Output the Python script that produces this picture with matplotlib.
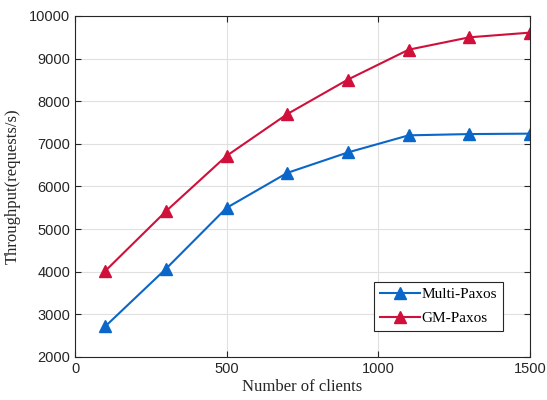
"""Throughput vs. number of clients: Multi-Paxos vs GM-Paxos."""

import matplotlib

matplotlib.use("Agg")
import matplotlib.pyplot as plt

clients = [100, 300, 500, 700, 900, 1100, 1300, 1500]
multi_paxos = [2720, 4070, 5500, 6320, 6800, 7200, 7230, 7240]
gm_paxos = [4020, 5420, 6720, 7700, 8510, 9210, 9500, 9610]

x_ticks = [0, 500, 1000, 1500]
y_ticks = [2000, 3000, 4000, 5000, 6000, 7000, 8000, 9000, 10000]


def main() -> None:
    fig = plt.figure(figsize=(5.47, 4.0), dpi=100)
    ax = fig.add_axes([75 / 547, 43 / 400, 455 / 547, 341 / 400])

    ax.plot(clients, multi_paxos, color="#0A66C8", marker="^", markersize=8.5,
            linewidth=1.5, label="Multi-Paxos")
    ax.plot(clients, gm_paxos, color="#D0103A", marker="^", markersize=8.5,
            linewidth=1.5, label="GM-Paxos")

    ax.set_xlim(0, 1500)
    ax.set_ylim(2000, 10000)
    ax.set_xticks(x_ticks)
    ax.set_yticks(y_ticks)
    ax.grid(True, color="#E0E0E0", linewidth=0.8)
    ax.set_axisbelow(True)
    ax.tick_params(direction="in", top=True, right=True, length=4,
                   labelsize=10.5, colors="#262626", labelcolor="#262626")
    for label in ax.get_xticklabels() + ax.get_yticklabels():
        label.set_family("Liberation Sans")
    for spine in ax.spines.values():
        spine.set_color("#262626")
        spine.set_linewidth(0.8)

    serif = {"family": "Liberation Serif", "size": 12}
    ax.set_xlabel("Number of clients", fontdict=serif, color="#262626", labelpad=2)
    ax.set_ylabel("Throughput(requests/s)", fontdict=serif, color="#262626", labelpad=6)

    leg = ax.legend(loc="lower right", bbox_to_anchor=(0.94, 0.076),
                    prop={"family": "Liberation Serif", "size": 11},
                    fancybox=False, edgecolor="#262626", framealpha=1,
                    handlelength=2.6, handletextpad=0.1, borderpad=0.4,
                    labelspacing=0.65, borderaxespad=0)
    leg.get_frame().set_linewidth(0.8)

    fig.savefig("out.png", dpi=100)
    plt.close(fig)


if __name__ == "__main__":
    main()
